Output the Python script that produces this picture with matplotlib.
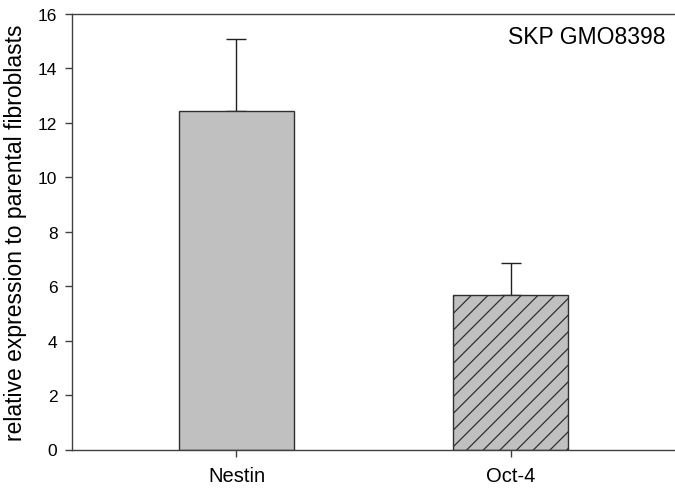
import matplotlib
matplotlib.use("Agg")
import matplotlib.pyplot as plt

plt.rcParams['font.family'] = ['Liberation Sans', 'DejaVu Sans']
plt.rcParams['hatch.color'] = '#202020'
plt.rcParams['hatch.linewidth'] = 0.9

categories = ["Nestin", "Oct-4"]
values = [12.45, 5.69]
errors = [2.63, 1.17]
hatches = ["", "//"]
yticks = [0, 2, 4, 6, 8, 10, 12, 14, 16]
label_text = "SKP GMO8398"

fig = plt.figure(figsize=(6.75, 4.89), dpi=100)
W, H = 675, 489
ax = fig.add_axes([72 / W, 1 - 450.5 / H, (675 - 72) / W, (450.5 - 15) / H])

x = list(range(len(categories)))
for xi, v, e, h in zip(x, values, errors, hatches):
    ax.bar(xi, v, width=0.42, color='#c0c0c0', edgecolor='#303030',
           linewidth=1.0, hatch=h, zorder=2)
    ax.errorbar(xi, v, yerr=[[0], [e]], fmt='none', ecolor='#202020',
                elinewidth=1.0, capsize=7, capthick=1.0, zorder=1)

ax.set_xlim(-0.6, 1.6)
ax.set_ylim(0, 16)
ax.set_xticks(x)
ax.set_xticklabels(categories, fontsize=14.5)
ax.set_yticks(yticks)
ax.set_yticklabels([str(t) for t in yticks], fontsize=12.5)
ax.set_ylabel("relative expression to parental fibroblasts", fontsize=16.5, labelpad=8)

for s in ['left', 'bottom', 'top']:
    ax.spines[s].set_color('#404040')
    ax.spines[s].set_linewidth(1.0)
ax.spines['right'].set_visible(False)
ax.tick_params(axis='both', direction='out', length=5, width=1.0, color='#404040')
ax.tick_params(axis='y', pad=5.5)
ax.tick_params(axis='x', pad=7)

ax.text(0.985, 0.975, label_text, transform=ax.transAxes, ha='right', va='top', fontsize=16.5)

fig.savefig("out.png", dpi=100)
